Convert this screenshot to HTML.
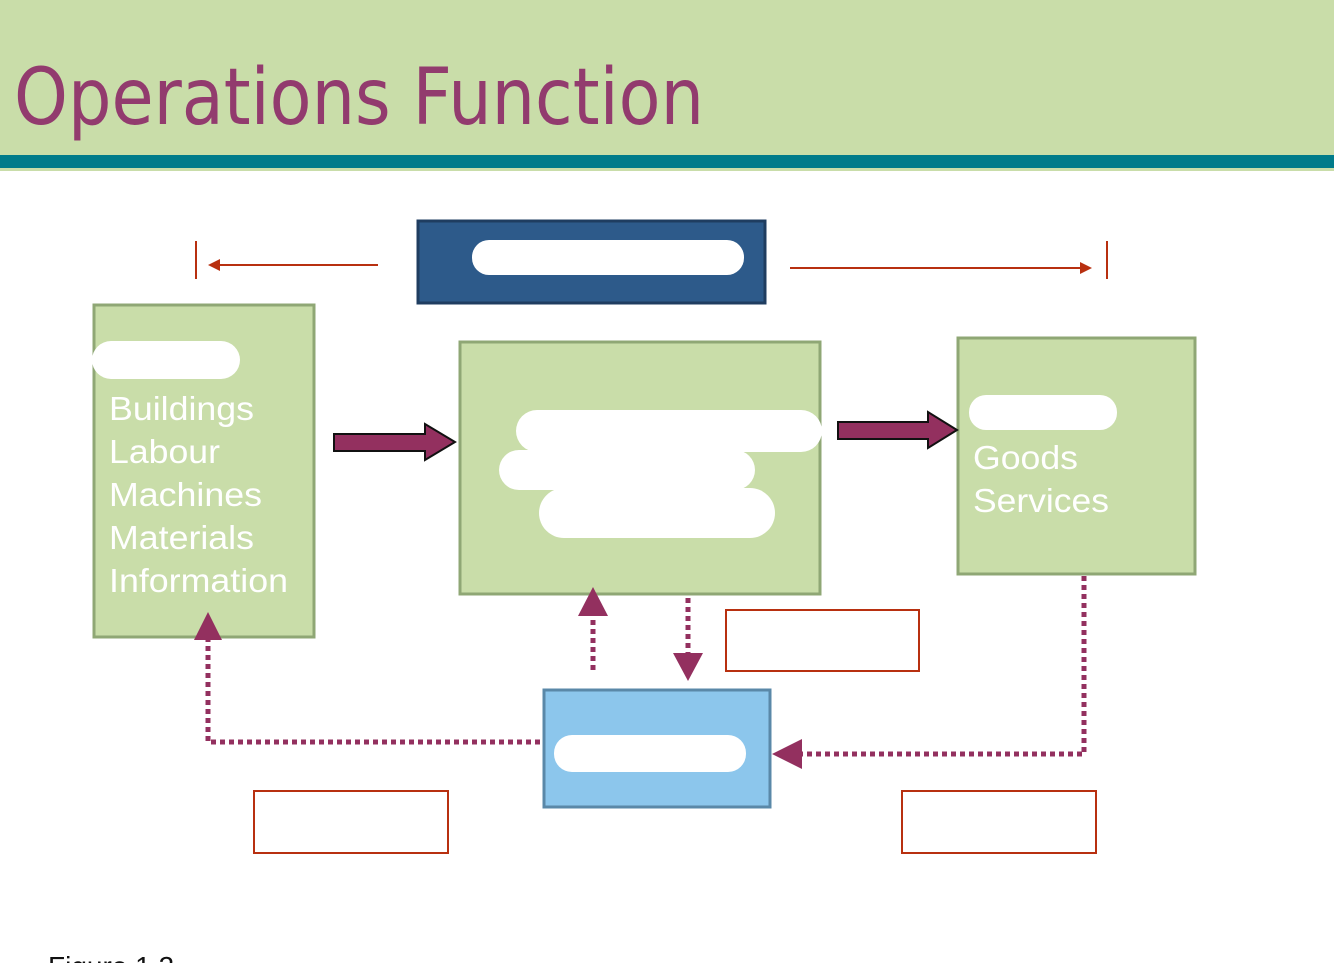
<!DOCTYPE html>
<html><head><meta charset="utf-8"><style>
html,body{margin:0;padding:0;background:#fff;}
svg{display:block;}
</style></head><body>
<svg width="1334" height="963" viewBox="0 0 1334 963" xmlns="http://www.w3.org/2000/svg" font-family="Liberation Sans, sans-serif">
<rect x="0" y="0" width="1334" height="156" fill="#c9dda9"/>
<rect x="0" y="155" width="1334" height="13" fill="#007b8a"/>
<rect x="0" y="168" width="1334" height="3" fill="#c9dda9"/>
<text x="14" y="124" font-size="78" fill="#923b6e" font-family="DejaVu Sans, sans-serif" textLength="690" lengthAdjust="spacingAndGlyphs">Operations Function</text>

<line x1="196" y1="241" x2="196" y2="279" stroke="#b83010" stroke-width="2"/>
<line x1="218" y1="265" x2="378" y2="265" stroke="#b83010" stroke-width="2"/>
<polygon points="208,265 220,259 220,271" fill="#b83010"/>
<line x1="1107" y1="241" x2="1107" y2="279" stroke="#b83010" stroke-width="2"/>
<line x1="790" y1="268" x2="1082" y2="268" stroke="#b83010" stroke-width="2"/>
<polygon points="1092,268 1080,262 1080,274" fill="#b83010"/>

<rect x="418" y="221" width="347" height="82" fill="#2d5a8a" stroke="#1f3d60" stroke-width="3"/>
<rect x="472" y="240" width="272" height="35" rx="17" fill="#fff"/>

<rect x="94" y="305" width="220" height="332" fill="#c9dda9" stroke="#8fa775" stroke-width="3"/>
<rect x="92" y="341" width="148" height="38" rx="19" fill="#fff"/>
<g fill="#fff" font-size="33">
<text x="109" y="420" textLength="145" lengthAdjust="spacingAndGlyphs">Buildings</text>
<text x="109" y="463" textLength="111" lengthAdjust="spacingAndGlyphs">Labour</text>
<text x="109" y="506" textLength="153" lengthAdjust="spacingAndGlyphs">Machines</text>
<text x="109" y="549" textLength="145" lengthAdjust="spacingAndGlyphs">Materials</text>
<text x="109" y="592" textLength="179" lengthAdjust="spacingAndGlyphs">Information</text>
</g>

<rect x="460" y="342" width="360" height="252" fill="#c9dda9" stroke="#8fa775" stroke-width="3"/>
<rect x="516" y="410" width="306" height="42" rx="21" fill="#fff"/>
<rect x="499" y="450" width="256" height="40" rx="20" fill="#fff"/>
<rect x="539" y="488" width="236" height="50" rx="25" fill="#fff"/>

<rect x="958" y="338" width="237" height="236" fill="#c9dda9" stroke="#8fa775" stroke-width="3"/>
<rect x="969" y="395" width="148" height="35" rx="17" fill="#fff"/>
<text x="973" y="469" fill="#fff" font-size="33" textLength="105" lengthAdjust="spacingAndGlyphs">Goods</text>
<text x="973" y="512" fill="#fff" font-size="33" textLength="136" lengthAdjust="spacingAndGlyphs">Services</text>

<polygon points="334,434 425,434 425,424 455,442 425,460 425,451 334,451" fill="#93305f" stroke="#111" stroke-width="2"/>
<polygon points="838,422 928,422 928,412 957,430 928,448 928,439 838,439" fill="#93305f" stroke="#111" stroke-width="2"/>

<rect x="544" y="690" width="226" height="117" fill="#8cc6ec" stroke="#5a88a8" stroke-width="3"/>
<rect x="554" y="735" width="192" height="37" rx="18" fill="#fff"/>

<g stroke="#93305f" stroke-width="5" stroke-dasharray="5,4" fill="none">
<polyline points="540,742 208,742 208,636"/>
<line x1="593" y1="670" x2="593" y2="615"/>
<line x1="688" y1="598" x2="688" y2="655"/>
<polyline points="1084,576 1084,754 800,754"/>
</g>
<polygon points="208,612 194,640 222,640" fill="#93305f"/>
<polygon points="593,587 578,616 608,616" fill="#93305f"/>
<polygon points="688,681 673,653 703,653" fill="#93305f"/>
<polygon points="772,754 802,739 802,769" fill="#93305f"/>

<g fill="none" stroke="#b83010" stroke-width="2">
<rect x="726" y="610" width="193" height="61"/>
<rect x="254" y="791" width="194" height="62"/>
<rect x="902" y="791" width="194" height="62"/>
</g>
<text x="48" y="976" font-size="28" fill="#111">Figure 1.2</text>
</svg>
</body></html>
